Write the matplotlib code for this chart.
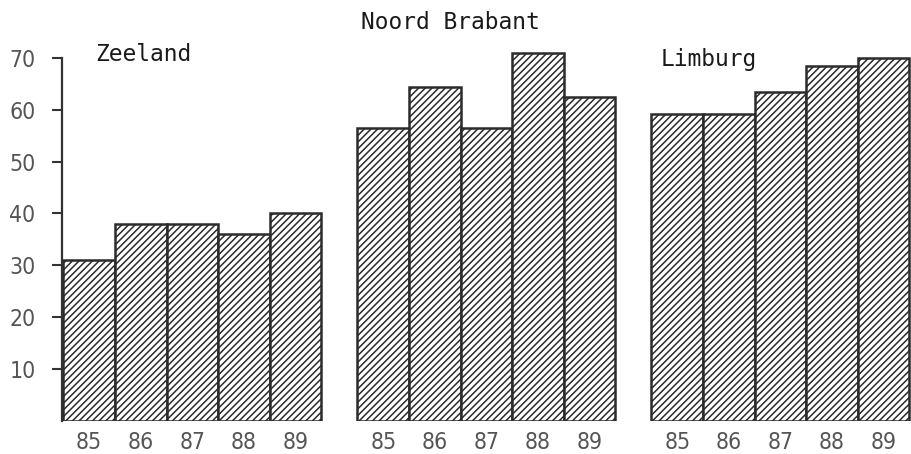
import numpy as np
import matplotlib.pyplot as plt

# Data
regions = ['Zeeland', 'Noord Brabant', 'Limburg']
years = ['85', '86', '87', '88', '89']
zeeland = [31, 38, 38, 36, 40]
noord_brabant = [56.4, 64.4, 56.4, 71, 62.4]
limburg = [59.2, 59.2, 63.4, 68.5, 70]
yticks = [10, 20, 30, 40, 50, 60, 70]

series = [zeeland, noord_brabant, limburg]

plt.rcParams['hatch.linewidth'] = 1.1

fig = plt.figure(figsize=(9.12, 4.54), dpi=100)
ax = fig.add_axes([0.0678, 0.0727, 0.9322, 0.823])

edge = '#2b2b2b'
gap = 0.70
xpos, xlabels = [], []
for g, vals in enumerate(series):
    x = g * (5 + gap) + np.arange(5) + 0.5
    ax.bar(x, vals, width=1.0, color='white', edgecolor=edge,
           linewidth=1.8, hatch='/////', zorder=2)
    xpos.extend(x)
    xlabels.extend(years)

# region titles
title_pos = [(0.62, 70.6), (5.77, 76.7), (11.57, 69.6)]
for name, (tx, ty) in zip(regions, title_pos):
    ax.text(tx, ty, name, fontsize=16.5, family='DejaVu Sans Mono',
            color='#1a1a1a', va='center', ha='left')

ax.set_xlim(-0.03, 16.45)
ax.set_ylim(0, 72)

for s in ['top', 'right', 'bottom']:
    ax.spines[s].set_visible(False)
ax.spines['left'].set_bounds(0, 70)
ax.spines['left'].set_linewidth(1.6)
ax.spines['left'].set_color('#333333')

ax.set_yticks(yticks)
ax.set_yticklabels([str(t) for t in yticks], fontsize=16.5, color='#555555',
                   fontstretch='condensed')
ax.tick_params(axis='y', length=7, width=1.5, color='#333333', pad=12)

ax.set_xticks(xpos)
ax.set_xticklabels(xlabels, fontsize=16.5, color='#555555',
                   fontstretch='condensed')
ax.tick_params(axis='x', length=0, pad=7)

fig.savefig('out.png', dpi=100)
